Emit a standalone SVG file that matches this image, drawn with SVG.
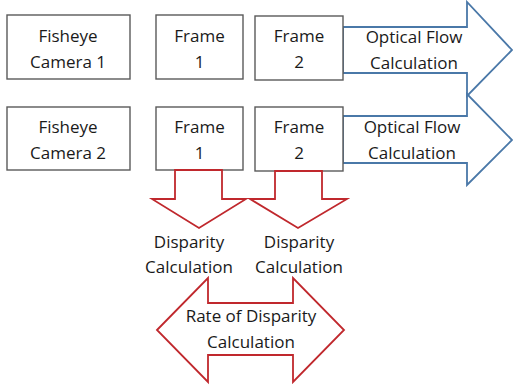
<svg xmlns="http://www.w3.org/2000/svg" width="513" height="388" viewBox="0 0 513 388">
<style>
text{font-family:"Open Sans","Liberation Sans",Arial,sans-serif;font-size:17px;fill:#1a1a1a;text-anchor:middle}
.box{fill:#fff;stroke:#5a5a5a;stroke-width:1.4}
.blue{fill:#fff;stroke:#4a78a8;stroke-width:1.8;stroke-linejoin:miter}
.red{fill:#fff;stroke:#c0282d;stroke-width:1.8;stroke-linejoin:miter}
</style>
<rect width="513" height="388" fill="#fff"/>
<g id="connectors">
<path class="blue" d="M343,27 H467 V2 L512,50 L467,96 V73 H343 Z"/>
<path class="blue" d="M343,116 H467 V94 L512,140 L467,185 V163 H343 Z"/>
</g>
<g id="cam1"><rect class="box" x="7" y="15" width="123" height="64"/><text x="68" y="42">Fisheye</text><text x="68" y="68">Camera 1</text></g>
<g id="cam2"><rect class="box" x="7" y="107" width="123" height="63"/><text x="68" y="133">Fisheye</text><text x="68" y="159">Camera 2</text></g>
<g id="f11"><rect class="box" x="156" y="15" width="87" height="64"/><text x="199.5" y="42">Frame</text><text x="199.5" y="68">1</text></g>
<g id="f12"><rect class="box" x="255" y="16" width="88" height="64"/><text x="299" y="42">Frame</text><text x="299" y="68">2</text></g>
<g id="f21"><rect class="box" x="156" y="107" width="87" height="63"/><text x="199.5" y="133">Frame</text><text x="199.5" y="159">1</text></g>
<g id="f22"><rect class="box" x="255" y="107" width="88" height="64"/><text x="299" y="133">Frame</text><text x="299" y="159">2</text></g>
<g id="of1"><text x="414" y="43">Optical Flow</text><text x="414" y="69">Calculation</text></g>
<g id="of2"><text x="412" y="133">Optical Flow</text><text x="412" y="159">Calculation</text></g>
<g id="redarrows">
<path class="red" d="M175,170 H222 V199 H246 L199,228 L152,199 H175 Z"/>
<path class="red" d="M275,171 H322 V199 H347 L298,228 L250,199 H275 Z"/>
</g>
<g id="disp1"><text x="189" y="248">Disparity</text><text x="189" y="273">Calculation</text></g>
<g id="disp2"><text x="299" y="248">Disparity</text><text x="299" y="273">Calculation</text></g>
<g id="rate">
<path class="red" d="M157,330 L208,278 V303 H293 V278 L344,330 L293,382 V355 H208 V382 Z"/>
<text x="251" y="322">Rate of Disparity</text><text x="251" y="348">Calculation</text>
</g>
</svg>
